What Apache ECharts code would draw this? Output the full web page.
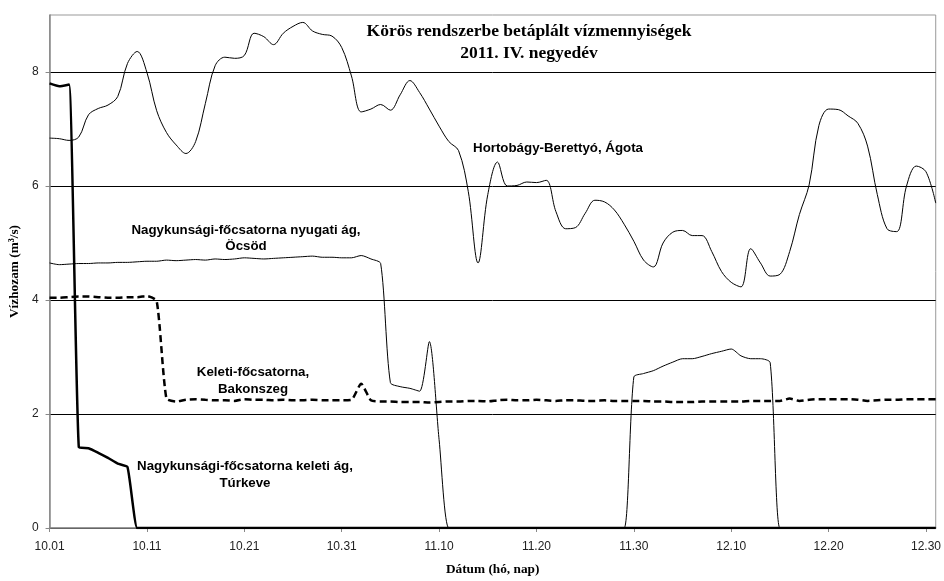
<!DOCTYPE html>
<html>
<head>
<meta charset="utf-8">
<script src="https://cdn.jsdelivr.net/npm/echarts@6/dist/echarts.min.js"></script>
<style>
    html, body { margin: 0; padding: 0; background: #fff; }
    #chart { width: 944px; height: 581px; }
</style>
</head>
<body>
<div id="chart"></div>
<script>
    // daily values, 10.01 - 12.31 (2011 Q4)
    var months = [[10, 31], [11, 30], [12, 31]];
    var days = [];
    months.forEach(function (m) {
        for (var d = 1; d <= m[1]; d++) days.push(m[0] + '.' + (d < 10 ? '0' + d : d));
    });

    var yTicks = [0, 2, 4, 6, 8];

    var hortobagy = [
        6.84, 6.83, 6.80, 6.86, 7.25, 7.36, 7.42, 7.57, 8.15, 8.36,
        7.99, 7.32, 6.94, 6.72, 6.57, 6.78, 7.45, 8.11, 8.26, 8.24,
        8.29, 8.68, 8.62, 8.48, 8.68, 8.80, 8.87, 8.72, 8.66, 8.63,
        8.43, 7.93, 7.30, 7.35, 7.43, 7.33, 7.60, 7.85, 7.64, 7.35,
        7.05, 6.78, 6.62, 5.90, 4.65, 5.85, 6.42, 6.00, 6.01, 6.07,
        6.06, 6.10, 5.55, 5.25, 5.27, 5.52, 5.75, 5.72, 5.58, 5.33,
        5.03, 4.70, 4.58, 5.00, 5.19, 5.22, 5.13, 5.13, 4.85, 4.50,
        4.31, 4.23, 4.90, 4.65, 4.42, 4.45, 4.85, 5.50, 6.02, 7.06,
        7.35, 7.34, 7.23, 7.10, 6.70, 5.85, 5.25, 5.20, 6.00, 6.35,
        6.25, 5.70
    ];

    var ocsod = [
        4.65, 4.62, 4.63, 4.64, 4.64, 4.65, 4.65, 4.66, 4.66, 4.67,
        4.68, 4.68, 4.70, 4.69, 4.70, 4.71, 4.70, 4.72, 4.71, 4.72,
        4.74, 4.73, 4.72, 4.73, 4.74, 4.75, 4.76, 4.77, 4.75, 4.75,
        4.74, 4.74, 4.78, 4.72, 4.64, 2.55, 2.48, 2.45, 2.40, 3.27,
        1.55, 0, 0, 0, 0, 0, 0, 0, 0, 0,
        0, 0, 0, 0, 0, 0, 0, 0, 0, 0,
        2.65, 2.71, 2.76, 2.84, 2.91, 2.97, 2.97, 3.01, 3.06, 3.10,
        3.14, 3.02, 2.97, 2.97, 2.90, 0, 0, 0, 0, 0,
        0, 0, 0, 0, 0, 0, 0, 0, 0, 0,
        0, 0
    ];

    var bakonszeg = [
        4.04, 4.04, 4.05, 4.06, 4.06, 4.05, 4.04, 4.04, 4.05, 4.05,
        4.07, 3.98, 2.27, 2.22, 2.25, 2.26, 2.25, 2.24, 2.24, 2.23,
        2.26, 2.25, 2.25, 2.24, 2.25, 2.24, 2.24, 2.25, 2.24, 2.24,
        2.24, 2.25, 2.53, 2.24, 2.22, 2.22, 2.21, 2.21, 2.21, 2.20,
        2.21, 2.22, 2.22, 2.23, 2.23, 2.22, 2.24, 2.25, 2.24, 2.24,
        2.25, 2.24, 2.23, 2.24, 2.24, 2.23, 2.23, 2.24, 2.23, 2.23,
        2.23, 2.23, 2.22, 2.22, 2.21, 2.21, 2.21, 2.22, 2.22, 2.22,
        2.22, 2.22, 2.23, 2.23, 2.23, 2.23, 2.27, 2.23, 2.25, 2.26,
        2.26, 2.26, 2.26, 2.25, 2.23, 2.24, 2.25, 2.25, 2.26, 2.26,
        2.26, 2.26
    ];

    var turkeve = [
        7.80, 7.75, 7.78, 1.42, 1.40, 1.32, 1.23, 1.13, 1.07, 0,
        0, 0, 0, 0, 0, 0, 0, 0, 0, 0,
        0, 0, 0, 0, 0, 0, 0, 0, 0, 0,
        0, 0, 0, 0, 0, 0, 0, 0, 0, 0,
        0, 0, 0, 0, 0, 0, 0, 0, 0, 0,
        0, 0, 0, 0, 0, 0, 0, 0, 0, 0,
        0, 0, 0, 0, 0, 0, 0, 0, 0, 0,
        0, 0, 0, 0, 0, 0, 0, 0, 0, 0,
        0, 0, 0, 0, 0, 0, 0, 0, 0, 0,
        0, 0
    ];

    var sans = '"Liberation Sans", Arial, sans-serif';
    var serif = '"Liberation Serif", "Times New Roman", serif';

    var label = function (text, x, y) {
        return {
            type: 'text', x: x, y: y, z: 10,
            style: {
                text: text, fill: '#000', font: 'bold 13.3px ' + sans,
                textAlign: 'center', textVerticalAlign: 'middle', lineHeight: 16.5
            }
        };
    };

    var line = function (name, data, width, type, smooth) {
        return {
            name: name, type: 'line', data: data, symbol: 'none', smooth: smooth,
            lineStyle: { color: '#000', width: width, type: type },
            emphasis: { disabled: true }
        };
    };

    var chart = echarts.init(document.getElementById('chart'));
    chart.setOption({
        animation: false,
        grid: { left: 49, right: 6, top: 15, bottom: 49, show: true, borderColor: '#999', borderWidth: 1 },
        xAxis: {
            type: 'category', data: days, boundaryGap: false,
            name: 'Dátum (hó, nap)', nameLocation: 'middle', nameGap: 35,
            nameTextStyle: { fontFamily: serif, fontWeight: 'bold', fontSize: 13.3, color: '#000' },
            axisLine: { lineStyle: { color: '#888', width: 1.5 } },
            axisTick: { interval: function (i) { return i % 10 === 0; }, length: 4, lineStyle: { color: '#888' } },
            axisLabel: {
                interval: function (i) { return i % 10 === 0; }, margin: 13,
                fontFamily: sans, fontSize: 12, color: '#222'
            },
            splitLine: { show: false }
        },
        yAxis: {
            type: 'value', min: 0, max: 9, interval: 2,
            name: 'Vízhozam (m³/s)', nameLocation: 'middle', nameGap: 26,
            nameTextStyle: { fontFamily: serif, fontWeight: 'bold', fontSize: 13.3, color: '#000' },
            axisLine: { show: true, lineStyle: { color: '#888', width: 1.5 } },
            axisTick: { show: true, length: 4, lineStyle: { color: '#888' } },
            axisLabel: {
                margin: 11, fontFamily: sans, fontSize: 12, color: '#222', showMaxLabel: false,
                formatter: function (v) { return yTicks.indexOf(v) >= 0 ? String(v) : ''; }
            },
            splitLine: { show: true, showMaxLine: false, lineStyle: { color: '#000', width: 1 } }
        },
        series: [
            line('Hortobágy-Berettyó, Ágota', hortobagy, 1, 'solid', 0.35),
            line('Nagykunsági-főcsatorna nyugati ág, Öcsöd', ocsod, 1, 'solid', 0.25),
            line('Keleti-főcsatorna, Bakonszeg', bakonszeg, 2.5, [7, 4], 0.2),
            line('Nagykunsági-főcsatorna keleti ág, Túrkeve', turkeve, 2.5, 'solid', 0.15)
        ],
        graphic: [
            {
                type: 'text', x: 529, y: 42.5, z: 10,
                style: {
                    text: 'Körös rendszerbe betáplált vízmennyiségek\n2011. IV. negyedév',
                    fill: '#000', font: 'bold 17.5px ' + serif,
                    textAlign: 'center', textVerticalAlign: 'middle', lineHeight: 21.6
                }
            },
            label('Hortobágy-Berettyó, Ágota', 558, 148),
            label('Nagykunsági-főcsatorna nyugati ág,\nÖcsöd', 246, 238.4),
            label('Keleti-főcsatorna,\nBakonszeg', 253, 381),
            label('Nagykunsági-főcsatorna keleti ág,\nTúrkeve', 245, 475)
        ]
    });
</script>
</body>
</html>
